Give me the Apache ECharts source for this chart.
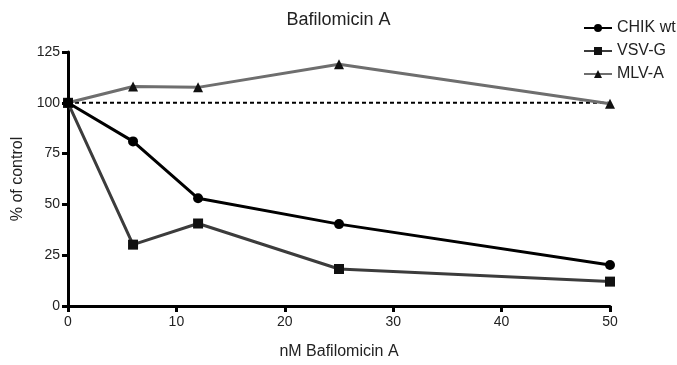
<!DOCTYPE html>
<html>
<head>
<meta charset="utf-8">
<title>Bafilomicin A</title>
<script src="https://cdn.jsdelivr.net/npm/echarts@6/dist/echarts.min.js"></script>
<style>
  html,body{margin:0;padding:0;background:#fff}
  #chart{width:677px;height:365px}
</style>
</head>
<body>
<div id="chart"></div>
<script>
// ---------- 数据 ----------
const doses = [0, 6, 12, 25, 50];          // nM Bafilomicin A
const chikWt = [100, 81, 53, 40.3, 20.2];
const vsvG   = [100, 30.2, 40.6, 18.2, 12];
const mlvA   = [100, 108, 107.6, 119, 99.5];
const controlLine = [100, 100];             // 虚线 100%
const controlX = [0, 50];
const xTicks = [0, 10, 20, 30, 40, 50];
const yTicks = [0, 25, 50, 75, 100, 125];

const FONT = 'Liberation Sans, Arial, sans-serif';
const pair = (xs, ys) => xs.map((x, i) => [x, ys[i]]);

const chart = echarts.init(document.getElementById('chart'));
chart.setOption({
  animation: false,
  textStyle: {fontFamily: FONT},
  title: {
    text: 'Bafilomicin A', left: 'center', top: 6,
    textStyle: {fontSize: 18, fontWeight: 'normal', color: '#222', fontFamily: FONT}
  },
  legend: {
    orient: 'vertical', left: 578, top: 15,
    itemWidth: 28, itemHeight: 10, itemGap: 7,
    data: ['CHIK wt', 'VSV-G', 'MLV-A'],
    textStyle: {fontSize: 16, color: '#222', fontFamily: FONT}
  },
  grid: {left: 68, right: 67, top: 52, bottom: 53},
  xAxis: {
    type: 'value', min: xTicks[0], max: xTicks[xTicks.length - 1], interval: 10,
    name: 'nM Bafilomicin A', nameLocation: 'middle', nameGap: 38,
    nameTextStyle: {fontSize: 16, color: '#222'},
    axisLine: {lineStyle: {color: '#000', width: 3}},
    axisTick: {length: 6, lineStyle: {color: '#000', width: 3}},
    axisLabel: {fontSize: 14, color: '#222', margin: 9},
    splitLine: {show: false}
  },
  yAxis: {
    type: 'value', min: yTicks[0], max: yTicks[yTicks.length - 1], interval: 25,
    name: '% of control', nameLocation: 'middle', nameGap: 42,
    nameTextStyle: {fontSize: 16, color: '#222'},
    axisLine: {show: true, lineStyle: {color: '#000', width: 3}},
    axisTick: {show: true, length: 6, lineStyle: {color: '#000', width: 3}},
    axisLabel: {fontSize: 14, color: '#222', margin: 8},
    splitLine: {show: false}
  },
  series: [
    {
      name: 'control', type: 'line', data: pair(controlX, controlLine),
      symbol: 'none', silent: true, z: 1,
      lineStyle: {color: '#000', width: 2, type: [4, 3]}
    },
    {
      name: 'CHIK wt', type: 'line', data: pair(doses, chikWt),
      symbol: 'circle', symbolSize: 10, z: 4,
      itemStyle: {color: '#000'}, lineStyle: {color: '#000', width: 3}
    },
    {
      name: 'VSV-G', type: 'line', data: pair(doses, vsvG),
      symbol: 'rect', symbolSize: 10, z: 3,
      itemStyle: {color: '#111'}, lineStyle: {color: '#3c3c3c', width: 3}
    },
    {
      name: 'MLV-A', type: 'line', data: pair(doses, mlvA),
      symbol: 'triangle', symbolSize: 10, z: 2,
      itemStyle: {color: '#111'}, lineStyle: {color: '#6e6e6e', width: 3}
    }
  ]
});
</script>
</body>
</html>
